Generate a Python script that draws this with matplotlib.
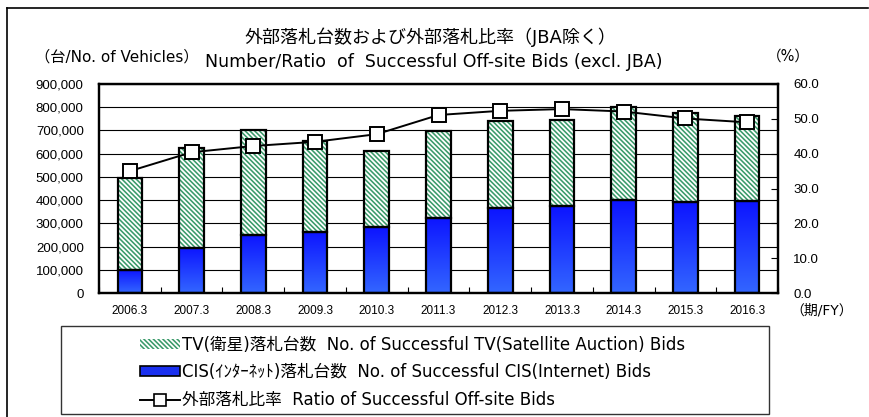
import numpy as np
import matplotlib
matplotlib.use("Agg")
import matplotlib.pyplot as plt
from matplotlib.patches import Rectangle, Patch
from matplotlib.lines import Line2D

categories = ['2006.3', '2007.3', '2008.3', '2009.3', '2010.3', '2011.3',
              '2012.3', '2013.3', '2014.3', '2015.3', '2016.3']
cis_bids = [100000, 194000, 250000, 264000, 284000, 324000,
            366000, 373000, 400000, 390000, 396000]
tv_bids = [395000, 430000, 453000, 392000, 326000, 373000,
           375000, 370000, 403000, 387000, 368000]
ratio = [35.0, 40.4, 42.2, 43.4, 45.6, 51.1, 52.3, 52.8, 52.1, 50.1, 49.0]
left_ticks = [0, 100000, 200000, 300000, 400000, 500000, 600000, 700000, 800000, 900000]
right_ticks = [0, 10, 20, 30, 40, 50, 60]

plt.rcParams['font.family'] = ['Liberation Sans', 'Noto Sans CJK JP', 'DejaVu Sans']
plt.rcParams['hatch.linewidth'] = 1.15
WIDE = ['DejaVu Sans', 'Noto Sans CJK JP']
HATCH = '\\' * 7
GREEN = '#3a9a6a'

W, H = 869, 417
fig = plt.figure(figsize=(W / 100, H / 100), dpi=100)

def fx(px):
    return px / W

def fy(py):
    return 1 - py / H

# outer frame (left and top edges)
fig.add_artist(Line2D([fx(7), fx(7)], [fy(8), fy(420)], color='black', lw=1.2))
fig.add_artist(Line2D([fx(7), fx(868)], [fy(8), fy(8)], color='black', lw=1.2))

ax = fig.add_axes([fx(99), fy(293), fx(778) - fx(99), fy(84) - fy(293)])
x = np.arange(len(categories))
width = 0.4

ax.set_yticks(left_ticks)
ax.set_yticklabels([f'{v:,}' for v in left_ticks], fontsize=9.5)
ax.yaxis.grid(True, color='black', lw=0.8)
ax.set_axisbelow(True)
ax.tick_params(axis='y', length=0, pad=11)

# CIS bars with vertical gradient
top_c = np.array([0.05, 0.08, 1.0])
bot_c = np.array([0.20, 0.40, 1.0])
grad = np.linspace(0, 1, 64)[:, None]
grad_img = top_c[None, None, :] * (1 - grad[:, :, None]) + bot_c[None, None, :] * grad[:, :, None]
for xi, v in zip(x, cis_bids):
    ax.imshow(grad_img, extent=(xi - width / 2, xi + width / 2, 0, v),
              aspect='auto', zorder=2, interpolation='bicubic')
ax.bar(x, cis_bids, width, facecolor='none', edgecolor='black', lw=1.6, zorder=3)

# TV bars, hatched green
ax.bar(x, tv_bids, width, bottom=cis_bids, facecolor='white', edgecolor=GREEN,
       hatch=HATCH, lw=0, zorder=2)
ax.bar(x, tv_bids, width, bottom=cis_bids, facecolor='none', edgecolor='black',
       lw=1.6, zorder=3)
ax.set_xlim(-0.5, len(categories) - 0.5)
ax.set_ylim(0, 900000)

ax.set_xticks(x)
ax.set_xticklabels(categories, fontsize=8.5)
ax.set_xticks(np.arange(-0.5, len(categories), 1.0), minor=True)
ax.tick_params(axis='x', which='major', length=0, pad=9)
ax.tick_params(axis='x', which='minor', direction='in', length=4, width=0.8)
for s in ax.spines.values():
    s.set_linewidth(1.6)

ax2 = ax.twinx()
ax2.set_ylim(0, 60)
ax2.set_yticks(right_ticks)
ax2.set_yticklabels([f'{v:.1f}' for v in right_ticks], fontsize=9.5)
ax2.tick_params(axis='y', direction='in', length=5, width=0.8, pad=11)
for s in ax2.spines.values():
    s.set_linewidth(1.6)
ax2.plot(x, ratio, color='black', lw=1.4, marker='s', markersize=10,
         markerfacecolor='white', markeredgecolor='black', markeredgewidth=1.4, zorder=5)

# texts
fig.text(fx(430), fy(37), '外部落札台数および外部落札比率（JBA除く）', ha='center', va='center',
         fontsize=13, family=WIDE)
fig.text(fx(205), fy(62), 'Number/Ratio  of  Successful Off-site Bids (excl. JBA)', ha='left',
         va='center', fontsize=12.5, family=WIDE)
fig.text(fx(35), fy(57), '（台/No. of Vehicles）', ha='left', va='center', fontsize=11, family=WIDE)
fig.text(fx(767), fy(56), '（%）', ha='left', va='center', fontsize=10.5, family=WIDE)
fig.text(fx(790), fy(310), '（期/FY）', ha='left', va='center', fontsize=10, family=WIDE)

# legend box
fig.add_artist(Rectangle((fx(61), fy(414)), fx(769) - fx(61), fy(326) - fy(414),
                         transform=fig.transFigure, facecolor='white', edgecolor='#333333', lw=1.0))
handles = [
    Patch(facecolor='white', edgecolor=GREEN, hatch=HATCH, lw=0),
    Patch(facecolor='#1a30f0', edgecolor='black', lw=1.2),
    Line2D([0], [0], color='black', lw=1.4, marker='s', markersize=8,
           markerfacecolor='white', markeredgecolor='black', markeredgewidth=1.2),
]
labels = [
    'TV(衛星)落札台数  No. of Successful TV(Satellite Auction) Bids',
    'CIS(ｲﾝﾀｰﾈｯﾄ)落札台数  No. of Successful CIS(Internet) Bids',
    '外部落札比率  Ratio of Successful Off-site Bids',
]
fig.legend(handles, labels, loc='upper left', bbox_to_anchor=(fx(128), fy(324)),
           frameon=False, prop={'family': WIDE, 'size': 12}, handlelength=2.4, handleheight=0.55,
           handletextpad=0.15, labelspacing=0.58, borderpad=0.2)

fig.savefig('out.png', dpi=100)
